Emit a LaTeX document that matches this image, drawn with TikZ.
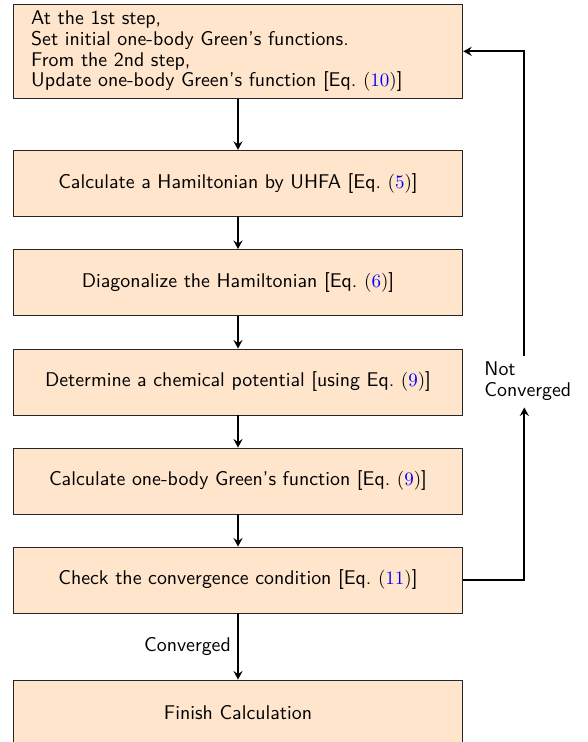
\documentclass[tikz,border=0pt]{standalone}
\usepackage{xcolor}
\usetikzlibrary{arrows.meta}
\begin{document}
\begin{tikzpicture}[x=0.526pt,y=-0.526pt,
  every node/.style={font=\fontsize{10.45pt}{10.9pt}\selectfont\sffamily},
  box/.style={draw=black!85, fill=orange!20, line width=0.5pt,
    minimum width=236.4pt, minimum height=34.7pt, inner sep=0pt},
  conn/.style={-{Stealth[length=4.5pt,width=4.8pt,inset=1.6pt]}, line width=0.95pt},
  lbl/.style={inner sep=3.3pt}]
\useasboundingbox (0,0) rectangle (587,742);
\node[box, minimum height=49.8pt, inner xsep=9.4pt, text width=217.6pt, align=left] (s1) at (238,51.35)
  {At the 1st step,\\Set initial one-body Green's functions.\\From the 2nd step,\\Update one-body Green's function [Eq.~$(\textcolor{blue}{10})$]};
\node[box] (s2) at (238,183.3) {Calculate a Hamiltonian by UHFA [Eq.~$(\textcolor{blue}{5})$]};
\node[box] (s3) at (238,282.5) {Diagonalize the Hamiltonian [Eq.~$(\textcolor{blue}{6})$]};
\node[box] (s4) at (238,382) {Determine a chemical potential [using Eq.~$(\textcolor{blue}{9})$]};
\node[box] (s5) at (238,481) {Calculate one-body Green's function [Eq.~$(\textcolor{blue}{9})$]};
\node[box] (s6) at (238,580) {Check the convergence condition [Eq.~$(\textcolor{blue}{11})$]};
\node[box] (s7) at (238,713) {Finish Calculation};
\node[lbl, align=left] (nc) at (527.8,381.5) {Not\\Converged};
\coordinate (ncs) at ([xshift=-1.84pt]nc.south);
\coordinate (ncn) at ([xshift=-1.84pt]nc.north);
\draw[conn] (s1) -- (s2);
\draw[conn] (s2) -- (s3);
\draw[conn] (s3) -- (s4);
\draw[conn] (s4) -- (s5);
\draw[conn] (s5) -- (s6);
\draw[conn] (s6) -- node[left, lbl] {Converged} (s7);
\draw[conn] (s6.east) -| (ncs);
\draw[conn] (ncn) |- (s1.east);
\end{tikzpicture}
\end{document}
